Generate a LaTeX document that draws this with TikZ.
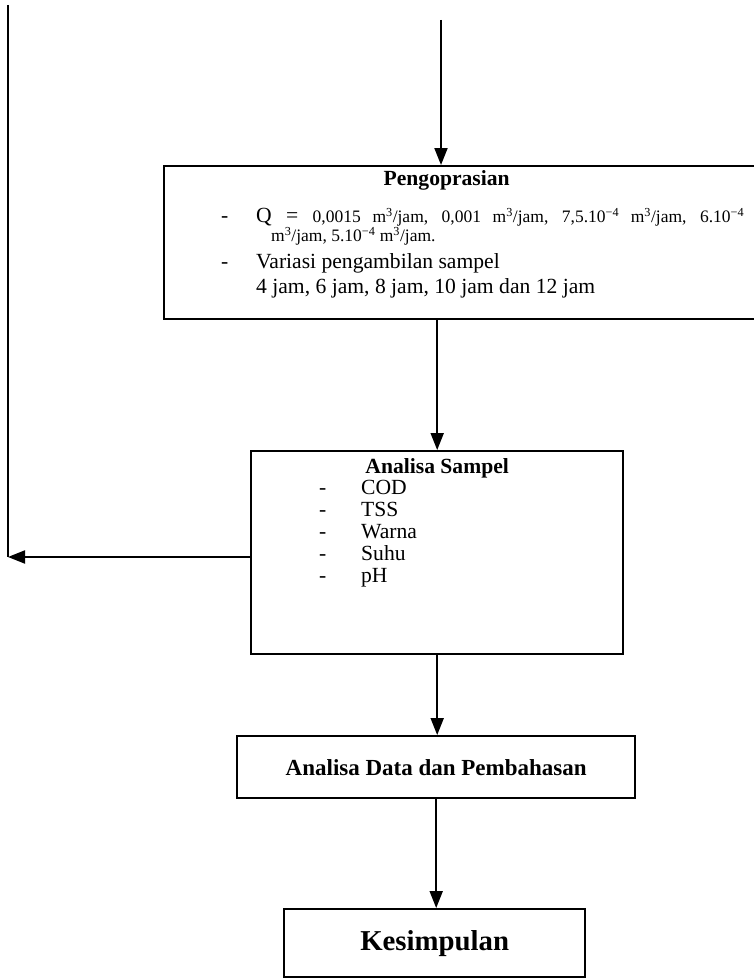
\documentclass[tikz,border=0pt]{standalone}
\usepackage{fontspec}
\setmainfont{Liberation Serif}
\usetikzlibrary{arrows.meta}

\tikzstyle{flowbox} = [draw=black, line width=2.4pt, rectangle, inner sep=0pt, anchor=north west]
\tikzstyle{flowline} = [line width=2pt, -{Triangle[length=17pt,width=13pt]}]
\newcommand{\normsize}{\fontsize{21.6}{22}\selectfont}
\newcommand{\smallsize}{\fontsize{17.5}{18}\selectfont}
\newcommand{\mkub}{m\textsuperscript{3}/jam}

\begin{document}
\begin{tikzpicture}[x=1pt,y=-1pt]
\clip (0,0) rectangle (754,979);

% Pengoprasian
\node [flowbox] (ops) at (163,165) {%
  \begin{minipage}[t][153pt][t]{597pt}
  \normsize
  \vspace*{4pt}
  \centerline{\textbf{Pengoprasian}\hspace{32pt}}
  \vspace{16pt}
  \hspace*{57pt}\begin{tabular}{@{}p{35pt}@{}l@{}}
  - & \makebox[488pt][s]{Q = \smallsize 0,0015 \mkub, 0,001 \mkub, 7,5.10\textsuperscript{−4} \mkub, 6.10\textsuperscript{−4}}\\[-3pt]
    & \hspace*{15pt}{\smallsize \mkub, 5.10\textsuperscript{−4} \mkub.}\\[5pt]
  - & Variasi pengambilan sampel\\[3pt]
    & 4 jam, 6 jam, 8 jam, 10 jam dan 12 jam
  \end{tabular}
  \end{minipage}
};

% Analisa sampel
\node [flowbox] (samp) at (250,450) {%
  \begin{minipage}[t][203pt][t]{372pt}
  \normsize
  \vspace*{7pt}
  \centerline{\textbf{Analisa Sampel}}
  \hspace*{68pt}\begin{tabular}{@{}p{42pt}@{}l@{}}
  - & COD\\
  - & TSS\\
  - & Warna\\
  - & Suhu\\
  - & pH
  \end{tabular}
  \end{minipage}
};

\node [flowbox, minimum width=398pt, minimum height=62pt, font=\fontsize{23}{26}\selectfont\bfseries] (data) at (236,735) {Analisa Data dan Pembahasan};
\node [flowbox, minimum width=301pt, minimum height=68pt, font=\fontsize{28.8}{32}\selectfont\bfseries] (conc) at (283,908) {Kesimpulan};

\coordinate (topin) at (441,20);
\coordinate (looptop) at (8,5);
\coordinate (loopend) at (8,557);

\draw[flowline] (topin) -- (topin |- ops.north);
\draw[flowline] (ops.south -| samp.north) -- (samp.north);
\draw[flowline] (samp.south) -- (samp.south |- data.north);
\draw[flowline] (data.south) -- (data.south |- conc.north);
\draw[line width=2pt] (looptop) -- (loopend);
\draw[flowline] (samp.west |- loopend) -- (loopend);
\end{tikzpicture}
\end{document}
